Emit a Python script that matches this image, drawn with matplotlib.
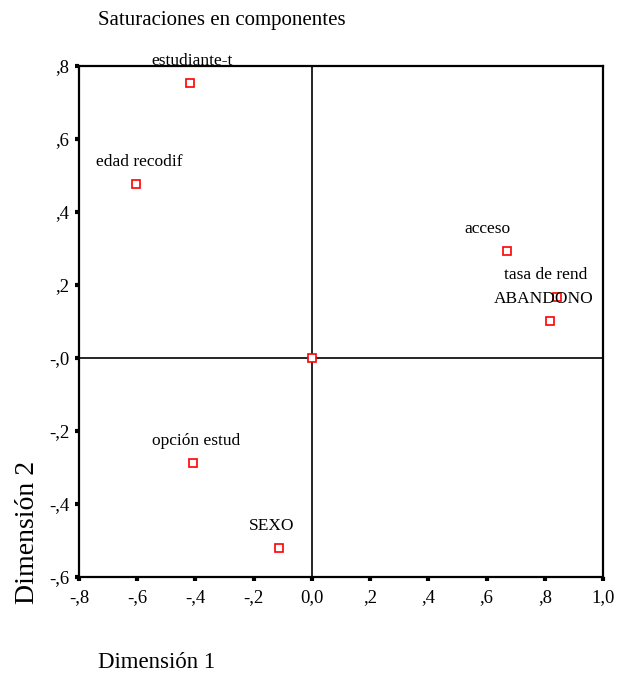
import matplotlib.pyplot as plt

plt.rcParams['font.family'] = ['Liberation Serif', 'DejaVu Serif']

# component loadings
names = ['estudiante-t', 'edad recodif', 'acceso', 'tasa de rend',
         'ABANDONO', '', 'opción estud', 'SEXO']
dim1 = [-0.417, -0.603, 0.671, 0.843, 0.817, 0.0, -0.407, -0.114]
dim2 = [0.753, 0.477, 0.292, 0.167, 0.101, 0.0, -0.288, -0.521]

# label offsets (points) from the marker
label_dx = [1, 2, -14, -8, -4, 0, 2, -5]
label_dy = 16

xticks = [-0.8, -0.6, -0.4, -0.2, 0.0, 0.2, 0.4, 0.6, 0.8, 1.0]
xtick_labels = ['-,8', '-,6', '-,4', '-,2', '0,0', ',2', ',4', ',6', ',8', '1,0']
yticks = [0.8, 0.6, 0.4, 0.2, 0.0, -0.2, -0.4, -0.6]
ytick_labels = [',8', ',6', ',4', ',2', '-,0', '-,2', '-,4', '-,6']

fig = plt.figure(figsize=(6.22, 6.79), dpi=100)
ax = fig.add_axes([79 / 622, 1 - 577 / 679, 524 / 622, 511 / 679])

ax.axhline(0, color='black', lw=1.2, zorder=1)
ax.axvline(0, color='black', lw=1.2, zorder=1)

ax.plot(dim1, dim2, ls='none', marker='s', ms=6, mfc='white',
        mec='red', mew=1.2, zorder=3)

for name, x, y, dx in zip(names, dim1, dim2, label_dx):
    if name:
        ax.annotate(name, (x, y), xytext=(dx, label_dy),
                    textcoords='offset points', ha='center', va='center',
                    fontsize=12.5, zorder=4)

ax.set_xlim(-0.8, 1.0)
ax.set_ylim(-0.6, 0.8)
ax.set_xticks(xticks)
ax.set_xticklabels(xtick_labels)
ax.set_yticks(yticks)
ax.set_yticklabels(ytick_labels)
ax.tick_params(direction='out', length=3, width=3, labelsize=13.5)
ax.tick_params(axis='x', pad=6)
ax.tick_params(axis='y', pad=4)
for sp in ax.spines.values():
    sp.set_linewidth(1.6)

fig.text(98 / 622, 1 - 20 / 679, 'Saturaciones en componentes',
         fontsize=15, ha='left', va='center')
fig.text(28 / 622, 1 - 532 / 679, 'Dimensión 2', fontsize=20,
         rotation=90, ha='center', va='center')
fig.text(98 / 622, 1 - 662 / 679, 'Dimensión 1', fontsize=16.5,
         ha='left', va='center')

fig.savefig('out.png', dpi=100)
